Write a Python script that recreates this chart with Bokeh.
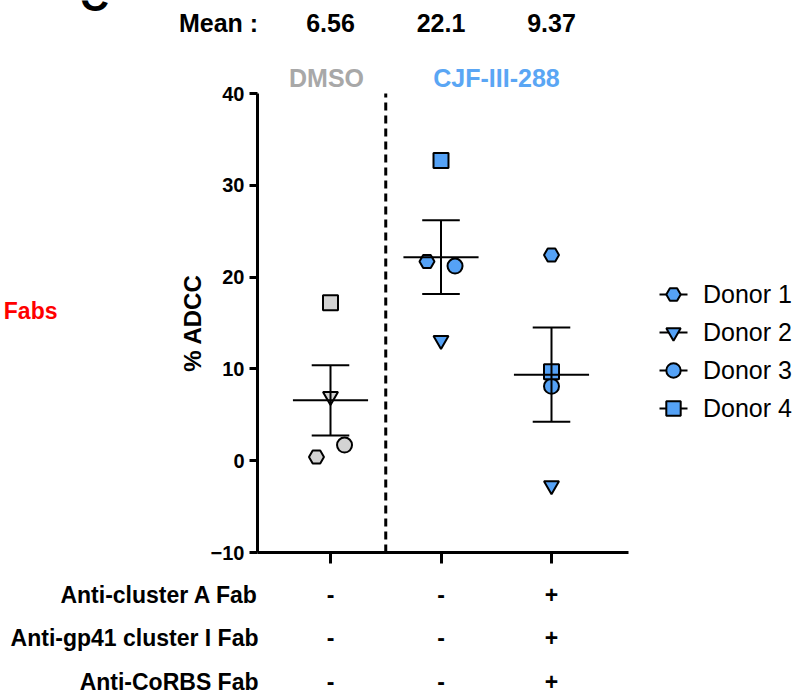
import numpy as np
from bokeh.plotting import figure
from bokeh.models import Label, Legend, LegendItem, FixedTicker
from bokeh.embed import file_html
from bokeh.resources import INLINE

# ---------------- data ----------------
group_x = [1, 2, 3]
group_titles = ["DMSO", "CJF-III-288"]
donors = ["Donor 1", "Donor 2", "Donor 3", "Donor 4"]
donor_markers = ["hex", "inverted_triangle", "circle", "square"]
donor1 = [0.4, 21.7, 22.4]
donor2 = [7.0, 13.1, -2.7]
donor3 = [1.7, 21.2, 8.1]
donor4 = [17.2, 32.7, 9.7]
mean_labels = ["6.56", "22.1", "9.37"]
y_ticks = [-10, 0, 10, 20, 30, 40]
y_bounds = (-10, 40)
row_labels = ["Anti-cluster A Fab", "Anti-gp41 cluster I Fab", "Anti-CoRBS Fab"]
row_cluster_a = ["-", "-", "+"]
row_gp41 = ["-", "-", "+"]
row_corbs = ["-", "-", "+"]

# ---------------- layout / style ----------------
W, H = 801, 697
X_PX = 110.5     # pixels per x unit
Y_PX = 9.18      # pixels per y unit


def xd(px):      # page pixel -> data x (x=1 sits at px 330)
    return 1 + (px - 330) / X_PX


def yd(py):      # page pixel -> data y (y=40 sits at py 93)
    return 40 - (py - 93) / Y_PX


GRAY = "#d3d3d3"
BLUE = "#55a2f6"
FONT = "Liberation Sans"
group_fill = [GRAY, BLUE, BLUE]
# horizontal spread of overlapping points (layout only)
spread = [[-0.127, 0.0, 0.127, 0.0], [-0.127, 0.0, 0.127, 0.0], [0.0, 0.0, 0.0, 0.0]]
X_LEFT, X_RIGHT = xd(257), xd(628)

p = figure(width=W, height=H, x_range=(xd(0), xd(W)), y_range=(yd(H), yd(0)),
           min_border=0, output_backend="svg", toolbar_location=None)
p.title.visible = False
p.outline_line_color = None
p.xgrid.visible = False
p.ygrid.visible = False
p.background_fill_color = "white"
p.border_fill_color = "white"

# axes (fixed inside the full-canvas frame)
for ax in (p.xaxis[0], p.yaxis[0]):
    ax.axis_line_width = 3
    ax.major_tick_line_width = 3
    ax.minor_tick_line_color = None
    ax.major_tick_in = 0
p.yaxis.fixed_location = X_LEFT
p.yaxis.bounds = y_bounds
p.yaxis.ticker = FixedTicker(ticks=y_ticks)
p.yaxis.major_tick_out = 8
p.yaxis.major_label_standoff = 5
p.yaxis.major_label_text_font = FONT
p.yaxis.major_label_text_font_style = "bold"
p.yaxis.major_label_text_font_size = "20px"
p.yaxis.major_label_text_color = "black"
p.yaxis.axis_label = "% ADCC"
p.yaxis.axis_label_text_font = FONT
p.yaxis.axis_label_text_font_style = "bold"
p.yaxis.axis_label_text_font_size = "24px"
p.yaxis.axis_label_text_color = "black"
p.yaxis.axis_label_standoff = 2
p.xaxis.fixed_location = y_bounds[0]
p.xaxis.bounds = (X_LEFT, X_RIGHT)
p.xaxis.ticker = FixedTicker(ticks=group_x)
p.xaxis.major_tick_out = 11
p.xaxis.major_label_overrides = {1: " ", 2: " ", 3: " "}
p.xaxis.major_label_text_font_size = "10px"

# dashed separator between DMSO and CJF-III-288
p.segment(x0=[1.5], x1=[1.5], y0=[y_bounds[0]], y1=[y_bounds[1]],
          line_color="black", line_width=3, line_dash="8 5")

# points
all_vals = [donor1, donor2, donor3, donor4]
for d, (vals, m) in enumerate(zip(all_vals, donor_markers)):
    xs = [g + spread[i][d] for i, g in enumerate(group_x)]
    p.scatter(x=xs, y=vals, marker=m, size=15, fill_color=group_fill,
              line_color="black", line_width=2)

# mean and SEM
arr = np.array(all_vals)
means = arr.mean(axis=0)
sems = arr.std(axis=0, ddof=1) / np.sqrt(arr.shape[0])
gx = np.array(group_x, dtype=float)
p.segment(x0=gx - 0.34, x1=gx + 0.34, y0=means, y1=means, line_color="black", line_width=2)
p.segment(x0=gx, x1=gx, y0=means - sems, y1=means + sems, line_color="black", line_width=2)
p.segment(x0=gx - 0.17, x1=gx + 0.17, y0=means + sems, y1=means + sems, line_color="black", line_width=2)
p.segment(x0=gx - 0.17, x1=gx + 0.17, y0=means - sems, y1=means - sems, line_color="black", line_width=2)

# legend (dummy renderers)
items = []
for name, m in zip(donors, donor_markers):
    lr = p.line(x=[np.nan], y=[np.nan], line_color="black", line_width=2, line_dash="0 4 28 4")
    sr = p.scatter(x=[np.nan], y=[np.nan], marker=m, size=15, fill_color=BLUE,
                   line_color="black", line_width=2)
    items.append(LegendItem(label=name, renderers=[lr, sr]))
legend = Legend(items=items, location=(655, H - 426), glyph_width=36, glyph_height=36,
                label_height=20, spacing=2, padding=0, margin=0, label_standoff=12,
                label_text_font=FONT, label_text_font_size="25px", label_text_color="black",
                background_fill_alpha=0, border_line_alpha=0)
p.add_layout(legend)


def lab(text, px, py, size="25px", color="black", align="center",
        baseline="middle", style="bold", xdata=None):
    x = xdata if xdata is not None else xd(px)
    p.add_layout(Label(text=text, x=x, y=yd(py), x_units="data", y_units="data",
                       text_font=FONT, text_font_size=size, text_font_style=style,
                       text_color=color, text_align=align, text_baseline=baseline))


# top row
lab("Mean :", 218, 22)
for g, t in zip(group_x, mean_labels):
    lab(t, None, 22, xdata=g)
lab(group_titles[0], 326, 77, color="#a8a8a8")
lab(group_titles[1], 496, 77, color="#5aa6f4")

# bottom table
rows = [row_cluster_a, row_gp41, row_corbs]
row_py = [594, 637, 681]
for label_text, signs, py in zip(row_labels, rows, row_py):
    lab(label_text, 258, py, size="23px", align="right")
    for g, s in zip(group_x, signs):
        lab(s, None, py, size="23px", xdata=g)

# fragments of the neighbouring panel
lab("Fabs", 57, 310, size="23px", color="#ff0000", align="right")
lab("C", 94, -4, size="40px")

open("out.html", "w").write(file_html(p, INLINE))
